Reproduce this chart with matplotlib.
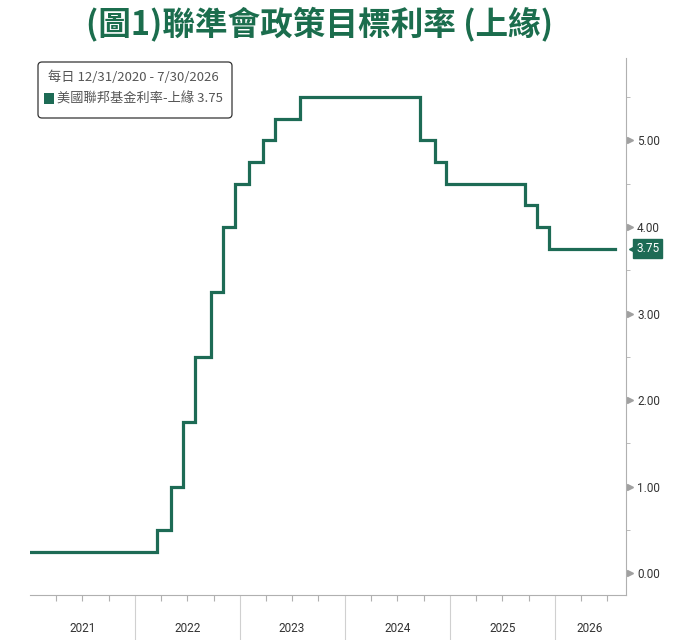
import numpy as np
import pandas as pd
import matplotlib
matplotlib.use("Agg")
import matplotlib.pyplot as plt
import matplotlib.transforms as mtransforms
from matplotlib.patches import FancyBboxPatch, Rectangle

plt.rcParams['font.family'] = ['Noto Sans CJK TC', 'DejaVu Sans']

# Fed funds target rate, upper bound (change dates)
change_dates = ['2020-12-31', '2022-03-17', '2022-05-05', '2022-06-16', '2022-07-28',
                '2022-09-22', '2022-11-03', '2022-12-15', '2023-02-02', '2023-03-23',
                '2023-05-04', '2023-07-27', '2024-09-19', '2024-11-08', '2024-12-19',
                '2025-09-18', '2025-10-30', '2025-12-11', '2026-07-30']
upper_rate = [0.25, 0.50, 1.00, 1.75, 2.50,
              3.25, 4.00, 4.50, 4.75, 5.00,
              5.25, 5.50, 5.00, 4.75, 4.50,
              4.25, 4.00, 3.75, 3.75]
years = [2021, 2022, 2023, 2024, 2025, 2026]
y_ticks = [0, 1, 2, 3, 4, 5]

green = '#1d6b55'
title_green = '#1b6d4d'
grey = '#b0b0b0'
tick_font = 'Roboto'

dates = pd.to_datetime(change_dates)

fig = plt.figure(figsize=(6.75, 6.4), dpi=100)
ax = fig.add_axes([0.0444, 0.0703, 0.8830, 0.8390])

ax.plot(dates, upper_rate, drawstyle='steps-post', color=green, lw=2.3, solid_joinstyle='miter')

ax.set_xlim(pd.Timestamp('2020-12-31'), pd.Timestamp('2026-09-05'))
ax.set_ylim(-0.25, 5.95)

for s in ['top', 'left']:
    ax.spines[s].set_visible(False)
ax.spines['right'].set_color(grey)
ax.spines['bottom'].set_color(grey)

# y axis on the right
ax.yaxis.tick_right()
ax.set_yticks(y_ticks)
ax.set_yticklabels(['{:.2f}'.format(v) for v in y_ticks], fontsize=8.5, color='#333333',
                   family=tick_font)
ax.set_yticks(np.arange(0.5, 5.6, 1.0), minor=True)
ax.tick_params(axis='y', which='major', length=0, pad=8)
ax.tick_params(axis='y', which='minor', length=3, color=grey, direction='out')
trans_y = mtransforms.blended_transform_factory(ax.transAxes, ax.transData)
ax.plot([1.006] * len(y_ticks), y_ticks, marker='>', ms=4, ls='none', color='#a0a0a0',
        transform=trans_y, clip_on=False)

# x axis: year separators, quarterly ticks, mid-year labels
ax.set_xticks(pd.to_datetime(['{}-01-01'.format(y) for y in years[1:]]))
ax.set_xticklabels([])
quarters = [pd.Timestamp('{}-{:02d}-01'.format(y, m)) for y in years for m in (4, 7, 10)]
quarters = [q for q in quarters if q < pd.Timestamp('2026-09-01')]
ax.set_xticks(quarters, minor=True)
ax.xaxis.set_minor_formatter(plt.NullFormatter())
ax.tick_params(axis='x', which='major', length=45, color='#d0d0d0', width=0.8)
ax.tick_params(axis='x', which='minor', length=4, color=grey, width=0.8)
trans_x = mtransforms.blended_transform_factory(ax.transData, ax.transAxes)
for y in years:
    mid = pd.Timestamp('{}-07-01'.format(y))
    if y == 2026:
        mid = pd.Timestamp('2026-05-01')
    ax.text(mid, -0.062, str(y), transform=trans_x, ha='center', va='center',
            fontsize=8.5, color='#333333', family=tick_font)

# last value tag
last = upper_rate[-1]
ax.text(1.017, last, '{:.2f}'.format(last), transform=trans_y, ha='left', va='center',
        fontsize=8.5, color='white', family=tick_font,
        bbox=dict(boxstyle='square,pad=0.25', fc=green, ec=green))
ax.plot([1.012], [last], marker='<', ms=6, color=green, transform=trans_y, clip_on=False)

# legend box
box = FancyBboxPatch((38 / 675, 1 - 118 / 640), 194 / 675, 56 / 640,
                     boxstyle='round,pad=0,rounding_size=0.006', transform=fig.transFigure,
                     fc='white', ec='#333333', lw=0.9)
fig.patches.append(box)
fig.text(48 / 675, 1 - 77 / 640, '每日 12/31/2020 - 7/30/2026', fontsize=9.5, color='#555555',
         va='center', ha='left')
fig.patches.append(Rectangle((44 / 675, 1 - 104 / 640), 10 / 675, 11 / 640,
                             transform=fig.transFigure, fc=green, ec='none'))
fig.text(57 / 675, 1 - 99 / 640, '美國聯邦基金利率-上緣 3.75', fontsize=9.5, color='#555555',
         va='center', ha='left')

fig.text(320 / 675, 1 - 24 / 640, '(圖1)聯準會政策目標利率 (上緣)', fontsize=23.5,
         fontweight='bold', color=title_green, ha='center', va='center')

fig.savefig('out.png', dpi=100, facecolor='white')
